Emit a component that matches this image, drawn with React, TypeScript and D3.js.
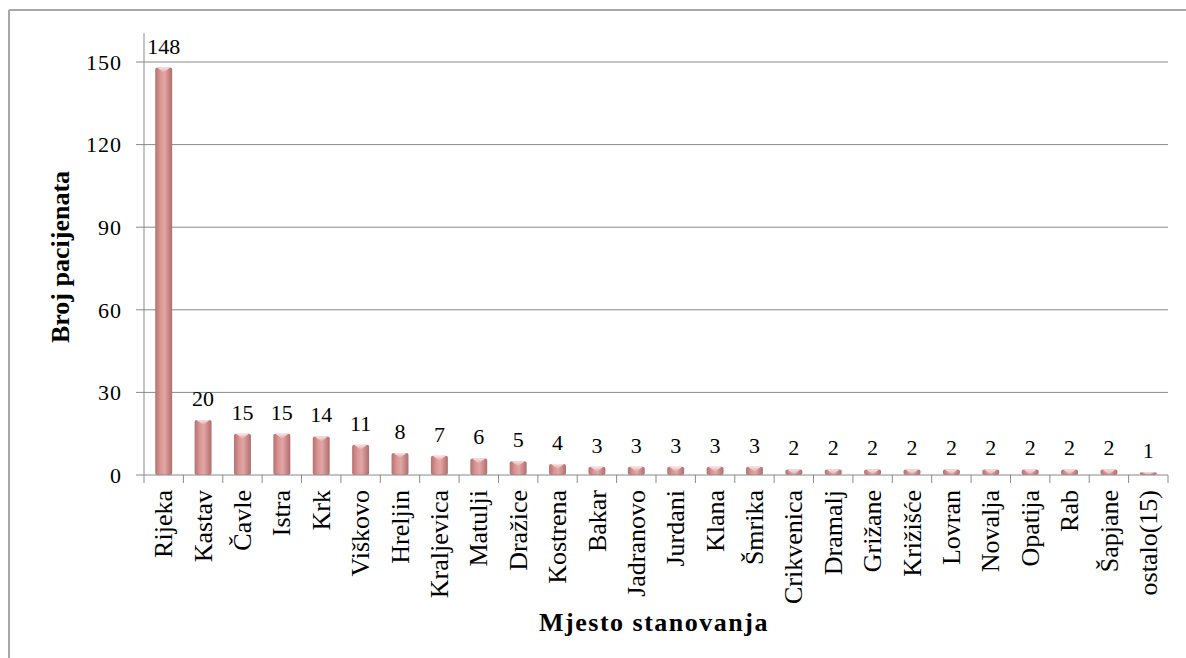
import React from "react";
import * as d3 from "d3";

const categories = [
  "Rijeka", "Kastav", "Čavle", "Istra", "Krk", "Viškovo", "Hreljin", "Kraljevica",
  "Matulji", "Dražice", "Kostrena", "Bakar", "Jadranovo", "Jurdani", "Klana", "Šmrika",
  "Crikvenica", "Dramalj", "Grižane", "Križišće", "Lovran", "Novalja", "Opatija", "Rab",
  "Šapjane", "ostalo(15)",
];
const values = [148, 20, 15, 15, 14, 11, 8, 7, 6, 5, 4, 3, 3, 3, 3, 3, 2, 2, 2, 2, 2, 2, 2, 2, 2, 1];
const yTicks = [0, 30, 60, 90, 120, 150];
const yTitle = "Broj pacijenata";
const xTitle = "Mjesto stanovanja";

const W = 1186;
const H = 658;
const FONT = "Liberation Serif, Tinos, Times New Roman, Times, DejaVu Serif, serif";

export default function App() {
  const left = 144;
  const right = 1168;
  const y = d3.scaleLinear().domain([0, 150]).range([475, 62]);
  const x = d3
    .scaleBand<string>()
    .domain(categories)
    .range([left, right])
    .paddingInner(0.57)
    .paddingOuter(0.285);
  const step = x.step();
  const axisColor = "#898989";
  const txt = { fontFamily: FONT };

  return (
    <div style={{ position: "absolute", left: 0, top: 0 }}>
      <svg width={W} height={H} style={{ display: "block", background: "#fff", fontFamily: FONT }}>
        <defs>
          <linearGradient id="barGrad" x1="0" x2="1" y1="0" y2="0">
            <stop offset="0%" stopColor="#b47170" />
            <stop offset="30%" stopColor="#d99594" />
            <stop offset="55%" stopColor="#e2a6a5" />
            <stop offset="100%" stopColor="#b06c6b" />
          </linearGradient>
          <linearGradient id="capGrad" x1="0" x2="0" y1="0" y2="1">
            <stop offset="0%" stopColor="#f8e4e4" />
            <stop offset="100%" stopColor="#e2a6a5" />
          </linearGradient>
        </defs>
        <line x1={9} x2={W} y1={10} y2={10} stroke="#a8a8a8" strokeWidth={2} />
        <line x1={9} x2={9} y1={10} y2={H} stroke="#a8a8a8" strokeWidth={2} />

        {yTicks.filter((t) => t > 0).map((t) => (
          <line key={"g" + t} x1={left} x2={right} y1={y(t)} y2={y(t)} stroke={axisColor} strokeWidth={1} />
        ))}

        {categories.map((c, i) => {
          const bx = x(c)!;
          const bw = x.bandwidth();
          const top = y(values[i]);
          const h = y(0) - top;
          const capH = Math.min(5, h);
          return (
            <g key={c}>
              <rect x={bx} y={top} width={bw} height={h} fill="url(#barGrad)" rx={2} />
              <path
                d={`M${bx + 2},${top} L${bx + bw - 2},${top} L${bx + bw / 2},${top + capH} Z`}
                fill="url(#capGrad)"
              />
            </g>
          );
        })}

        <line x1={left} x2={left} y1={33} y2={y(0)} stroke={axisColor} strokeWidth={1} />
        {yTicks.map((t) => (
          <g key={"t" + t}>
            <line x1={left - 8} x2={left} y1={y(t)} y2={y(t)} stroke={axisColor} strokeWidth={1} />
            <text
              x={left - 22}
              y={y(t)}
              dy="0.35em"
              textAnchor="end"
              style={txt}
              fontSize={22}
              letterSpacing={1}
              fill="#000"
            >
              {t}
            </text>
          </g>
        ))}

        <line x1={left} x2={right} y1={y(0)} y2={y(0)} stroke={axisColor} strokeWidth={1} />
        {d3.range(categories.length + 1).map((k) => (
          <line
            key={"xt" + k}
            x1={left + k * step}
            x2={left + k * step}
            y1={y(0)}
            y2={y(0) + 8}
            stroke={axisColor}
            strokeWidth={1}
          />
        ))}

        {categories.map((c) => {
          const cx = x(c)! + x.bandwidth() / 2;
          return (
            <text
              key={"l" + c}
              transform={`translate(${cx},490) rotate(-90)`}
              textAnchor="end"
              dy="0.33em"
              style={txt}
              fontSize={26}
              fill="#000"
            >
              {c}
            </text>
          );
        })}

        {categories.map((c, i) => {
          const cx = x(c)! + x.bandwidth() / 2;
          return (
            <text
              key={"d" + c}
              x={cx}
              y={y(values[i]) - 14}
              textAnchor="middle"
              style={txt}
              fontSize={22}
              fill="#000"
            >
              {values[i]}
            </text>
          );
        })}

        <text
          transform={`translate(60,257) rotate(-90)`}
          textAnchor="middle"
          dy="0.35em"
          style={txt}
          fontSize={26}
          fontWeight="bold"
          fill="#000"
        >
          {yTitle}
        </text>
        <text
          x={654}
          y={631}
          textAnchor="middle"
          style={txt}
          fontSize={26}
          fontWeight="bold"
          letterSpacing={1.5}
          fill="#000"
        >
          {xTitle}
        </text>
      </svg>
    </div>
  );
}
